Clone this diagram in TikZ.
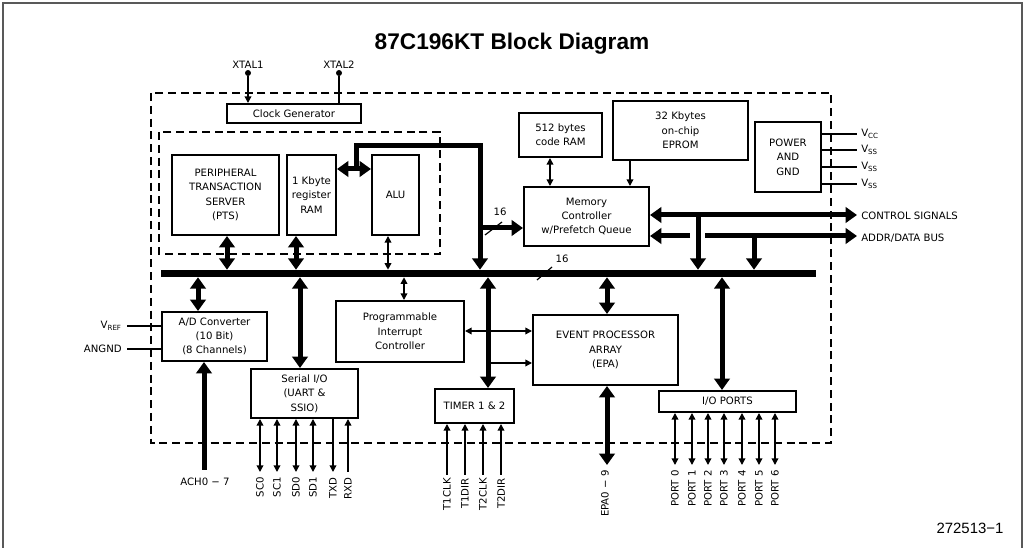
\documentclass[tikz,border=0pt]{standalone}
\usepackage{fontspec}
\setmainfont{Liberation Sans}
\newfontfamily\dvsfam{DejaVu Sans}
\usetikzlibrary{arrows.meta,fit}
\newcommand\dgfont{\dvsfam\fontsize{7.6}{10.8}\selectfont}
\newcommand\mkbox[6]{\node[blk,minimum width={(#4-#2)*0.75pt},minimum height={(#5-#3)*0.75pt}] (#1) at ({(#2+#4)/2},{(#3+#5)/2}) {#6};}
\begin{document}
\begin{tikzpicture}[x=0.75pt,y=-0.75pt,
  blk/.style={draw,line width=1.5pt,inner sep=0pt,align=center,font=\dgfont},
  lbl/.style={inner sep=0pt,font=\dgfont},
  pinlbl/.style={inner sep=0pt,font=\dgfont,rotate=90,anchor=east},
  dsh/.style={line width=1.5pt,dash pattern=on 6pt off 3.6pt},
  thk/.style={line width=3.75pt},
  thn/.style={line width=1.1pt},
  bigtip/.tip={Triangle[length=8.5pt,width=11.5pt]},
  smtip/.tip={Triangle[length=5pt,width=5pt]},
  slash/.style={line width=0.9pt}
]
\useasboundingbox (0,0) rectangle (1026,548);
% page frame
\draw[black!65,line width=1.5pt] (3,548) -- (3,3) -- (1022,3) -- (1022,548);
% title
\node[inner sep=0pt,font=\fontsize{17}{20}\selectfont\bfseries] (title) at (512,44) {87C196KT Block Diagram};
\node[inner sep=0pt,font=\fontsize{11.2}{13}\selectfont] (fig) at (970,528) {272513\textminus1};

% outer and inner dashed frames
\draw[dsh] (151,93) rectangle (831,443);
\draw[dsh] (159,132) rectangle (440,254);

% bus
\node[fill=black,inner sep=0pt,fit={(161,270)(816,277)}] (bus) {};

% blocks
\mkbox{clk}{227}{104}{361}{123}{Clock Generator}
\mkbox{pts}{172}{155}{279}{235}{PERIPHERAL\\TRANSACTION\\SERVER\\(PTS)}
\mkbox{ram}{287}{155}{336}{235}{1 Kbyte\\register\\RAM}
\mkbox{alu}{372}{155}{419}{235}{ALU}
\mkbox{cram}{519}{113}{602}{157}{512 bytes\\code RAM}
\mkbox{eprom}{613}{101}{748}{160}{32 Kbytes\\on-chip\\EPROM}
\mkbox{pwr}{755}{122}{821}{192}{POWER\\AND\\GND}
\mkbox{mc}{524}{187}{649}{246}{Memory\\Controller\\w/Prefetch Queue}
\mkbox{adc}{162}{312}{267}{361}{A/D Converter\\(10 Bit)\\(8 Channels)}
\mkbox{sio}{251}{369}{358}{418}{Serial I/O\\(UART \&\\SSIO)}
\mkbox{pic}{336}{301}{464}{362}{Programmable\\Interrupt\\Controller}
\mkbox{tmr}{435}{389}{514}{423}{TIMER 1 \& 2}
\mkbox{epa}{533}{315}{678}{385}{EVENT PROCESSOR\\ARRAY\\(EPA)}
\mkbox{iop}{659}{391}{796}{412}{I/O PORTS}

% XTAL
\node[lbl] (xt1) at (248,65) {XTAL1};
\node[lbl] (xt2) at (339,65) {XTAL2};
\node[circle,fill,inner sep=0pt,minimum size=4.5pt] (xd1) at (248,73) {};
\node[circle,fill,inner sep=0pt,minimum size=4.5pt] (xd2) at (339,73) {};
\draw[thn,-{smtip}] (xd1) -- (xd1 |- clk.north);
\draw[thn] (xd2) -- (xd2 |- clk.north);

% inner block to bus
\draw[thk,{bigtip}-{bigtip}] (227,0 |- pts.south) -- (227,0 |- bus.north);
\draw[thk,{bigtip}-{bigtip}] (296,0 |- ram.south) -- (296,0 |- bus.north);
\draw[thn,{smtip}-{smtip}] (388,0 |- alu.south) -- (388,0 |- bus.north);

% RAM <-> ALU and path to memory controller
\coordinate (jA) at (356,169);
\coordinate (jB) at (480,228);
\draw[thk,{bigtip}-{bigtip}] (ram.east |- jA) -- (alu.west |- jA);
\draw[thk,-{bigtip}] (jA) |- (480,146) -- (jB |- bus.north);
\draw[thk,-{bigtip}] (jB) -- (jB -| mc.west);
\draw[slash] (485,235) -- (502,222);
\node[lbl] (w16a) at (500,212) {16};
\draw[slash] (537,280) -- (552,267);
\node[lbl] (w16b) at (562,259) {16};

% memory
\draw[thn,{smtip}-{smtip}] (550,0 |- cram.south) -- (550,0 |- mc.north);
\draw[thn,-{smtip}] (630,0 |- eprom.south) -- (630,0 |- mc.north);

% power
\foreach \yy/\nm/\sb in {134/pa/CC,150/pb/SS,167/pc/SS,184/pd/SS}{
  \coordinate (\nm) at (857,\yy);
  \draw[thn] (pwr.east |- \nm) -- (\nm);
  \node[lbl,anchor=west] (\nm l) at (861,\yy) {V\textsubscript{\sb}};
}

% control / address
\coordinate (ctlE) at (857,215);
\coordinate (adE) at (857,236);
\coordinate (adG) at (690,236);
\coordinate (adH) at (705,236);
\coordinate (dA) at (698,215);
\coordinate (dB) at (754,236);
\draw[thk,{bigtip}-{bigtip}] (mc.east |- ctlE) -- (ctlE);
\draw[thk,-{bigtip}] (adG) -- (mc.east |- adG);
\draw[thk,-{bigtip}] (adH) -- (adE);
\draw[thk,-{bigtip}] (dA) -- (dA |- bus.north);
\draw[thk,-{bigtip}] (dB) -- (dB |- bus.north);
\node[lbl,anchor=west] (ctll) at (861,216) {CONTROL SIGNALS};
\node[lbl,anchor=west] (addl) at (861,238) {ADDR/DATA BUS};

% A/D
\draw[thk,{bigtip}-{bigtip}] (198,0 |- bus.south) -- (198,0 |- adc.north);
\coordinate (vr) at (127,326);
\coordinate (ag) at (127,349);
\draw[thn] (vr) -- (vr -| adc.west);
\draw[thn] (ag) -- (ag -| adc.west);
\node[lbl,anchor=east] (vrl) at (122,326) {V\textsubscript{REF}};
\node[lbl,anchor=east] (agl) at (122,349) {ANGND};
\coordinate (ach) at (204,470);
\draw[thk,-{bigtip}] (ach) -- (ach |- adc.south);
\node[lbl] (achl) at (205,482) {ACH0 \textminus{} 7};

% serial
\draw[thk,{bigtip}-{bigtip}] (300,0 |- bus.south) -- (300,0 |- sio.north);
\foreach \xx/\nm/\tx in {260/s0/SC0,277/s1/SC1,296/s2/SD0,313/s3/SD1}{
  \coordinate (\nm) at (\xx,472);
  \draw[thn,{smtip}-{smtip}] (\nm |- sio.south) -- (\nm);
  \node[pinlbl] (\nm l) at (\xx,477) {\tx};
}
\coordinate (s4) at (333,472);
\draw[thn,-{smtip}] (s4 |- sio.south) -- (s4);
\node[pinlbl] (s4l) at (333,477) {TXD};
\coordinate (s5) at (348,472);
\draw[thn,-{smtip}] (s5) -- (s5 |- sio.south);
\node[pinlbl] (s5l) at (348,477) {RXD};

% PIC
\draw[thn,{smtip}-{smtip}] (404,0 |- bus.south) -- (404,0 |- pic.north);
\draw[thn,{smtip}-{smtip}] (pic.east |- 0,331) -- (epa.west |- 0,331);
% timer
\draw[thk,{bigtip}-{bigtip}] (488,0 |- bus.south) -- (488,0 |- tmr.north);
\coordinate (tj) at (488,363);
\draw[thn,-{smtip}] (tj) -- (tj -| epa.west);
\foreach \xx/\nm/\tx in {447/t0/T1CLK,465/t1/T1DIR,483/t2/T2CLK,501/t3/T2DIR}{
  \coordinate (\nm) at (\xx,475);
  \draw[thn,-{smtip}] (\nm) -- (\nm |- tmr.south);
  \node[pinlbl] (\nm l) at (\xx,478) {\tx};
}
% EPA
\draw[thk,{bigtip}-{bigtip}] (607,0 |- bus.south) -- (607,0 |- epa.north);
\coordinate (ep) at (607,465);
\draw[thk,{bigtip}-{bigtip}] (ep |- epa.south) -- (ep);
\node[pinlbl] (epl) at (605,470) {EPA0 \textminus{} 9};
% I/O ports
\foreach \xx/\nm/\tx in {675/p0/PORT 0,692/p1/PORT 1,708/p2/PORT 2,724/p3/PORT 3,742/p4/PORT 4,759/p5/PORT 5,775/p6/PORT 6}{
  \coordinate (\nm) at (\xx,465);
  \draw[thn,{smtip}-{smtip}] (\nm |- iop.south) -- (\nm);
  \node[pinlbl] (\nm l) at (\xx,470) {\tx};
}
\draw[thk,{bigtip}-{bigtip}] (722,0 |- bus.south) -- (722,0 |- iop.north);
\end{tikzpicture}
\end{document}
